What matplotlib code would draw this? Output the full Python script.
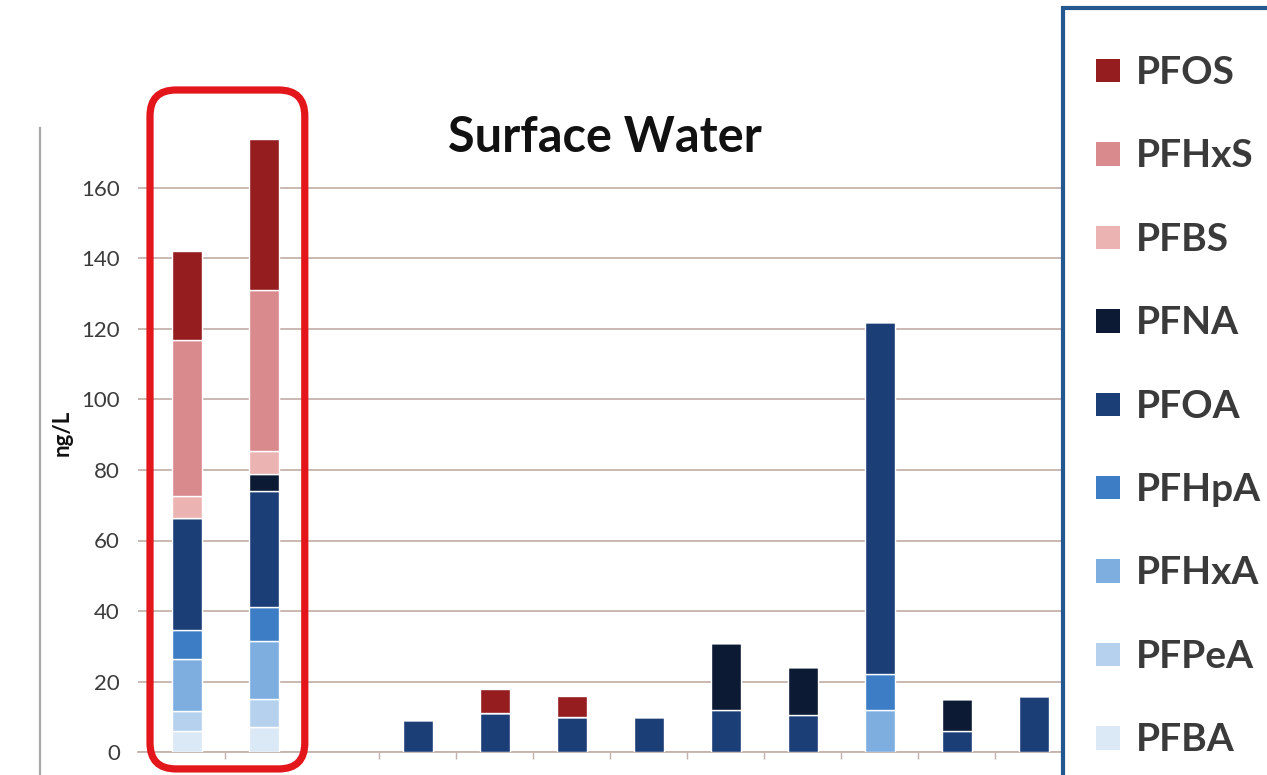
import numpy as np
import matplotlib
matplotlib.use("Agg")
import matplotlib.pyplot as plt
from matplotlib.patches import Patch, FancyBboxPatch, Rectangle
from matplotlib.lines import Line2D
from matplotlib.transforms import IdentityTransform
from matplotlib.legend_handler import HandlerPatch

# Compounds, stacked bottom to top
compounds = ["PFBA", "PFPeA", "PFHxA", "PFHpA", "PFOA", "PFNA", "PFBS", "PFHxS", "PFOS"]
colors = ["#dbe8f6", "#b6d1ee", "#7eade0", "#3c7dc6", "#1c3e77",
          "#0c1a33", "#ecb3b3", "#d98a8d", "#951d20"]

# Concentrations (ng/L) for each sample, per compound
PFBA  = [6.0, 7.0, 0, 0, 0, 0, 0, 0, 0, 0, 0]
PFPeA = [5.5, 8.0, 0, 0, 0, 0, 0, 0, 0, 0, 0]
PFHxA = [15.0, 16.5, 0, 0, 0, 0, 0, 0, 12.0, 0, 0]
PFHpA = [8.0, 9.5, 0, 0, 0, 0, 0, 0, 10.0, 0, 0]
PFOA  = [32.0, 33.0, 9.0, 11.0, 10.0, 10.0, 12.0, 10.5, 100.0, 6.0, 16.0]
PFNA  = [0, 5.0, 0, 0, 0, 0, 19.0, 13.5, 0, 9.0, 0]
PFBS  = [6.0, 6.5, 0, 0, 0, 0, 0, 0, 0, 0, 0]
PFHxS = [44.5, 45.5, 0, 0, 0, 0, 0, 0, 0, 0, 0]
PFOS  = [25.0, 43.0, 0, 7.0, 6.0, 0, 0, 0, 0, 0, 0]

series = [PFBA, PFPeA, PFHxA, PFHpA, PFOA, PFNA, PFBS, PFHxS, PFOS]
yticks = [0, 20, 40, 60, 80, 100, 120, 140, 160]

W, H = 1267, 775
fig = plt.figure(figsize=(W / 100, H / 100), dpi=100)
fig.patch.set_facecolor("white")

ax = fig.add_axes([138 / W, 23 / H, (1063 - 138) / W, 634.5 / H])
x = np.r_[0:2, 3:12].astype(float)   # one empty slot after the first two samples

bottom = np.zeros(len(x))
for vals, col in zip(series, colors):
    v = np.asarray(vals, dtype=float)
    ax.bar(x, v, width=0.39, bottom=bottom, color=col,
           edgecolor="white", linewidth=1.0, zorder=3)
    bottom += v

ax.set_xlim(-0.636, 11.377)
ax.set_ylim(0, 180)
ax.set_yticks(yticks)
ax.set_yticklabels([str(t) for t in yticks], fontsize=16, color="#3c3c3c",
                   family="Lato")
ax.tick_params(axis="y", length=0, pad=13)
ax.grid(axis="y", color="#c6b3ab", linewidth=1.3, zorder=0)
ax.set_axisbelow(True)

ax.set_xticks(np.arange(0.5, 11.0, 1.0))
ax.set_xticklabels([])
ax.tick_params(axis="x", length=5, width=1, color="#bfb2ac", direction="out")

for s in ["top", "right", "left"]:
    ax.spines[s].set_visible(False)
ax.spines["bottom"].set_color("#c6b3ab")
ax.spines["bottom"].set_linewidth(1.3)

ax.set_ylabel("ng/L", fontsize=16, fontweight="bold", family="Lato",
              color="#111111")
ax.yaxis.set_label_coords(-0.071, 0.503)

fig.text(605 / W, 1 - 152 / H, "Surface Water", fontsize=35, fontweight="bold",
         family="Lato", ha="center", va="baseline", color="#111111")

# Frame line on the far left
fig.add_artist(Line2D([40 / W, 40 / W], [0, 1 - 128 / H], color="#a9a9a9",
                      linewidth=1.6, transform=fig.transFigure))

# Red highlight around the first two samples
fig.canvas.draw()
(x0, y0) = ax.transData.transform((x[0] - 0.48, -4.8))
(x1, y1) = ax.transData.transform((x[1] + 0.53, 187.8))
box = FancyBboxPatch((x0, y0), x1 - x0, y1 - y0,
                     boxstyle="round,pad=0,rounding_size=26",
                     fill=False, edgecolor="#e3161c", linewidth=5.2,
                     transform=IdentityTransform(), zorder=10)
fig.add_artist(box)


# Legend swatch: a small square centred on the capital letters of the label
def square_swatch(legend, orig_handle, xdescent, ydescent, width, height, fontsize):
    side = width
    return Rectangle((-xdescent, 0.34 * fontsize - side / 2), side, side)


handles = [Patch(facecolor=c, edgecolor="none") for c in colors][::-1]
labels = compounds[::-1]
leg = fig.legend(handles, labels, loc="upper left",
                 bbox_to_anchor=(1063 / W, 1 - 8 / H),
                 prop={"family": "Lato", "size": 28, "weight": "bold"},
                 labelcolor="#3a3a3a", frameon=True, fancybox=False,
                 handlelength=0.6, handleheight=2.0, handletextpad=0.42,
                 labelspacing=0.6, borderpad=0.86, borderaxespad=0,
                 handler_map={Patch: HandlerPatch(patch_func=square_swatch)})
fr = leg.get_frame()
fr.set_edgecolor("#22578f")
fr.set_linewidth(3)
fr.set_facecolor("white")
fr.set_alpha(1)

fig.savefig("out.png", dpi=100, facecolor="white")
